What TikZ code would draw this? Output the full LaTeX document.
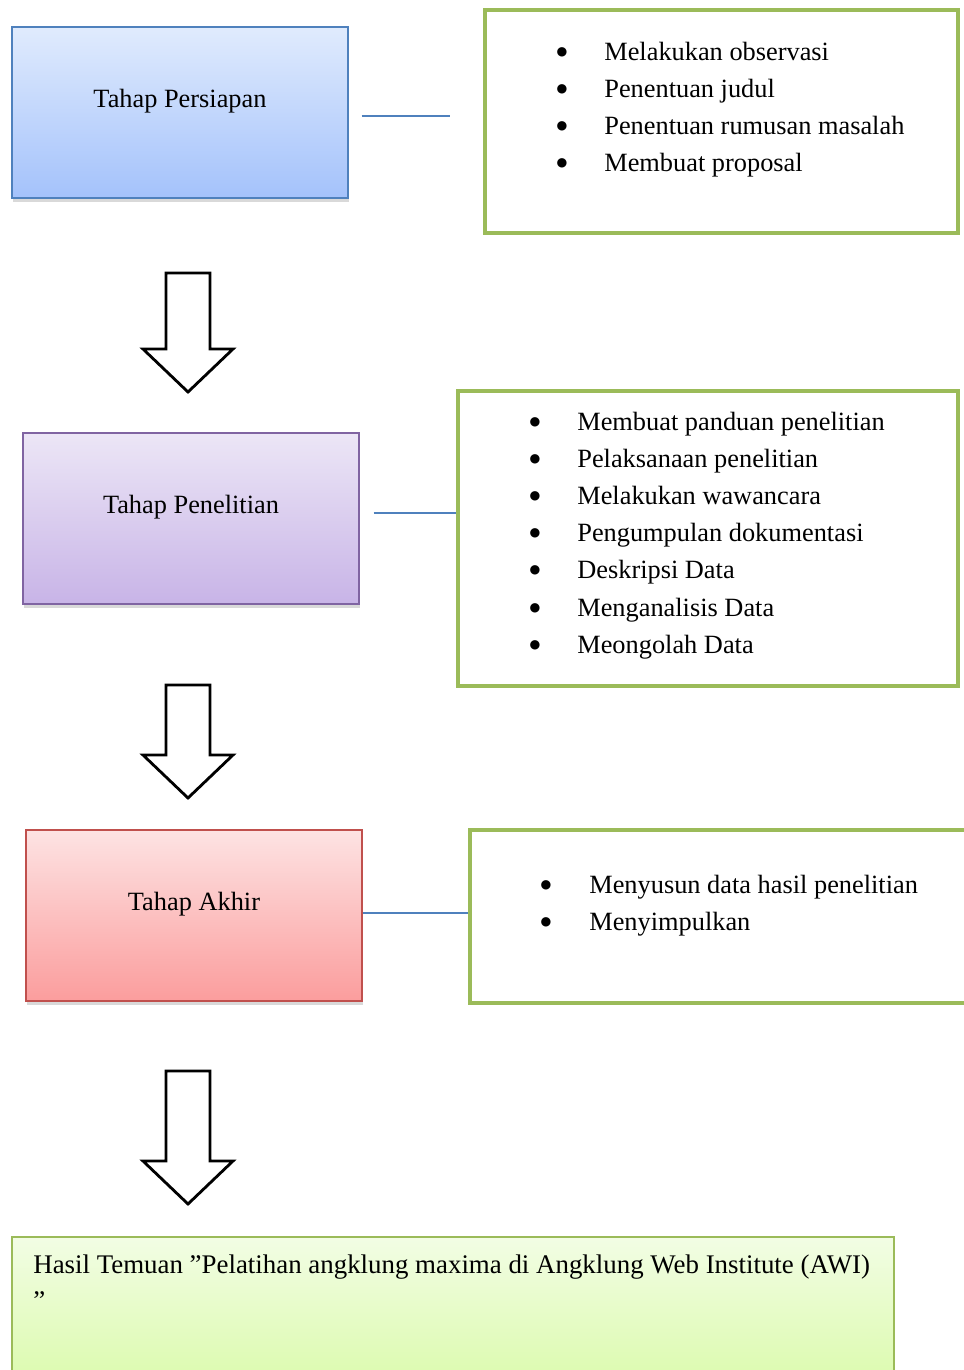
\documentclass[tikz,border=0pt]{standalone}
\usepackage{fontspec}
\setmainfont{Liberation Serif}
\newfontfamily\symfont{DejaVu Sans}
\usetikzlibrary{shadows}

\definecolor{linkblue}{HTML}{4F81BD}
\definecolor{notegreen}{HTML}{9BBB59}
\definecolor{edgepurple}{HTML}{8064A2}
\definecolor{edgered}{HTML}{C0504D}

\begin{document}
\begin{tikzpicture}[x=0.02cm, y=-0.02cm, font=\fontsize{15}{21}\selectfont,
  stage/.style={draw, line width=0.8pt, minimum width=6.72cm, minimum height=3.42cm,
    drop shadow={shadow xshift=0.8pt, shadow yshift=-2pt, opacity=0.3}},
  notebox/.style={draw=notegreen, line width=2.2pt},
  item/.style={anchor=base west, inner sep=0pt},
  dot/.style={anchor=center, inner sep=0pt, font=\symfont\fontsize{7}{7}\selectfont},
  link/.style={draw=linkblue, line width=0.8pt},
  downarrow/.style={draw=black, line width=1.6pt, fill=white, line join=miter}]

  \clip (0,0) rectangle (964,1370);

  % stages
  \node[stage, draw=linkblue, top color={rgb,255:red,224;green,235;blue,253},
    bottom color={rgb,255:red,164;green,194;blue,251}] (persiapan) at (180,112.5) {};
  \node[stage, draw=edgepurple, top color={rgb,255:red,236;green,230;blue,246},
    bottom color={rgb,255:red,200;green,180;blue,231}] (penelitian) at (191,518.5) {};
  \node[stage, draw=edgered, top color={rgb,255:red,253;green,227;blue,227},
    bottom color={rgb,255:red,251;green,157;blue,157}] (akhir) at (194,915.5) {};

  \node (tpersiapan) at (180,101) {Tahap Persiapan};
  \node (tpenelitian) at (191,507) {Tahap Penelitian};
  \node (takhir) at (194,904) {Tahap Akhir};

  % notes
  \node[notebox, minimum width=9.46cm, minimum height=4.46cm] (ket1) at (721.5,121.5) {};
  \node[notebox, minimum width=10cm, minimum height=5.9cm] (ket2) at (708,538.5) {};
  \node[notebox, minimum width=10.6cm, minimum height=3.46cm] (ket3) at (735,916.5) {};

  \foreach \txt [count=\i from 0] in {Melakukan observasi, Penentuan judul,
      Penentuan rumusan masalah, Membuat proposal} {
    \node[dot] (d1-\i) at (562,52+37*\i) {●};
    \node[item] (i1-\i) at (604,60+37*\i) {\txt};
  }
  \foreach \txt [count=\i from 0] in {Membuat panduan penelitian, Pelaksanaan penelitian,
      Melakukan wawancara, Pengumpulan dokumentasi, Deskripsi Data,
      Menganalisis Data, Meongolah Data} {
    \node[dot] (d2-\i) at (535,422+37.2*\i) {●};
    \node[item] (i2-\i) at (577,430+37.2*\i) {\txt};
  }
  \foreach \txt [count=\i from 0] in {Menyusun data hasil penelitian, Menyimpulkan} {
    \node[dot] (d3-\i) at (546,885+37*\i) {●};
    \node[item] (i3-\i) at (589,893+37*\i) {\txt};
  }

  % links
  \draw[link, shorten <=0.26cm, shorten >=0.66cm] (persiapan.east |- 0,116) -- (ket1.west |- 0,116);
  \draw[link, shorten <=0.28cm] (penelitian.east |- 0,513) -- (ket2.west |- 0,513);
  \draw[link] (akhir.east |- 0,913) -- (ket3.west |- 0,913);

  % arrows
  \foreach \top/\tip in {273/392, 685/798, 1071/1204}
    \draw[downarrow] (166,\top) -- (210,\top) -- (210,\tip-43) -- (233,\tip-43)
      -- (188,\tip) -- (143,\tip-43) -- (166,\tip-43) -- cycle;

  % result
  \node[draw=notegreen, line width=0.8pt, minimum width=17.64cm, minimum height=3.66cm,
    top color={rgb,255:red,242;green,253;blue,228}, bottom color={rgb,255:red,214;green,250;blue,160},
    drop shadow={shadow xshift=0.8pt, shadow yshift=-2pt, opacity=0.3}] (hasil) at (453,1328.5) {};
  \node[anchor=north west, inner sep=0pt, align=left, font=\fontsize{15.3}{21}\selectfont] (thasil) at (33,1254)
    {Hasil Temuan ”Pelatihan angklung maxima di Angklung Web Institute (AWI)\\”};

\end{tikzpicture}
\end{document}
